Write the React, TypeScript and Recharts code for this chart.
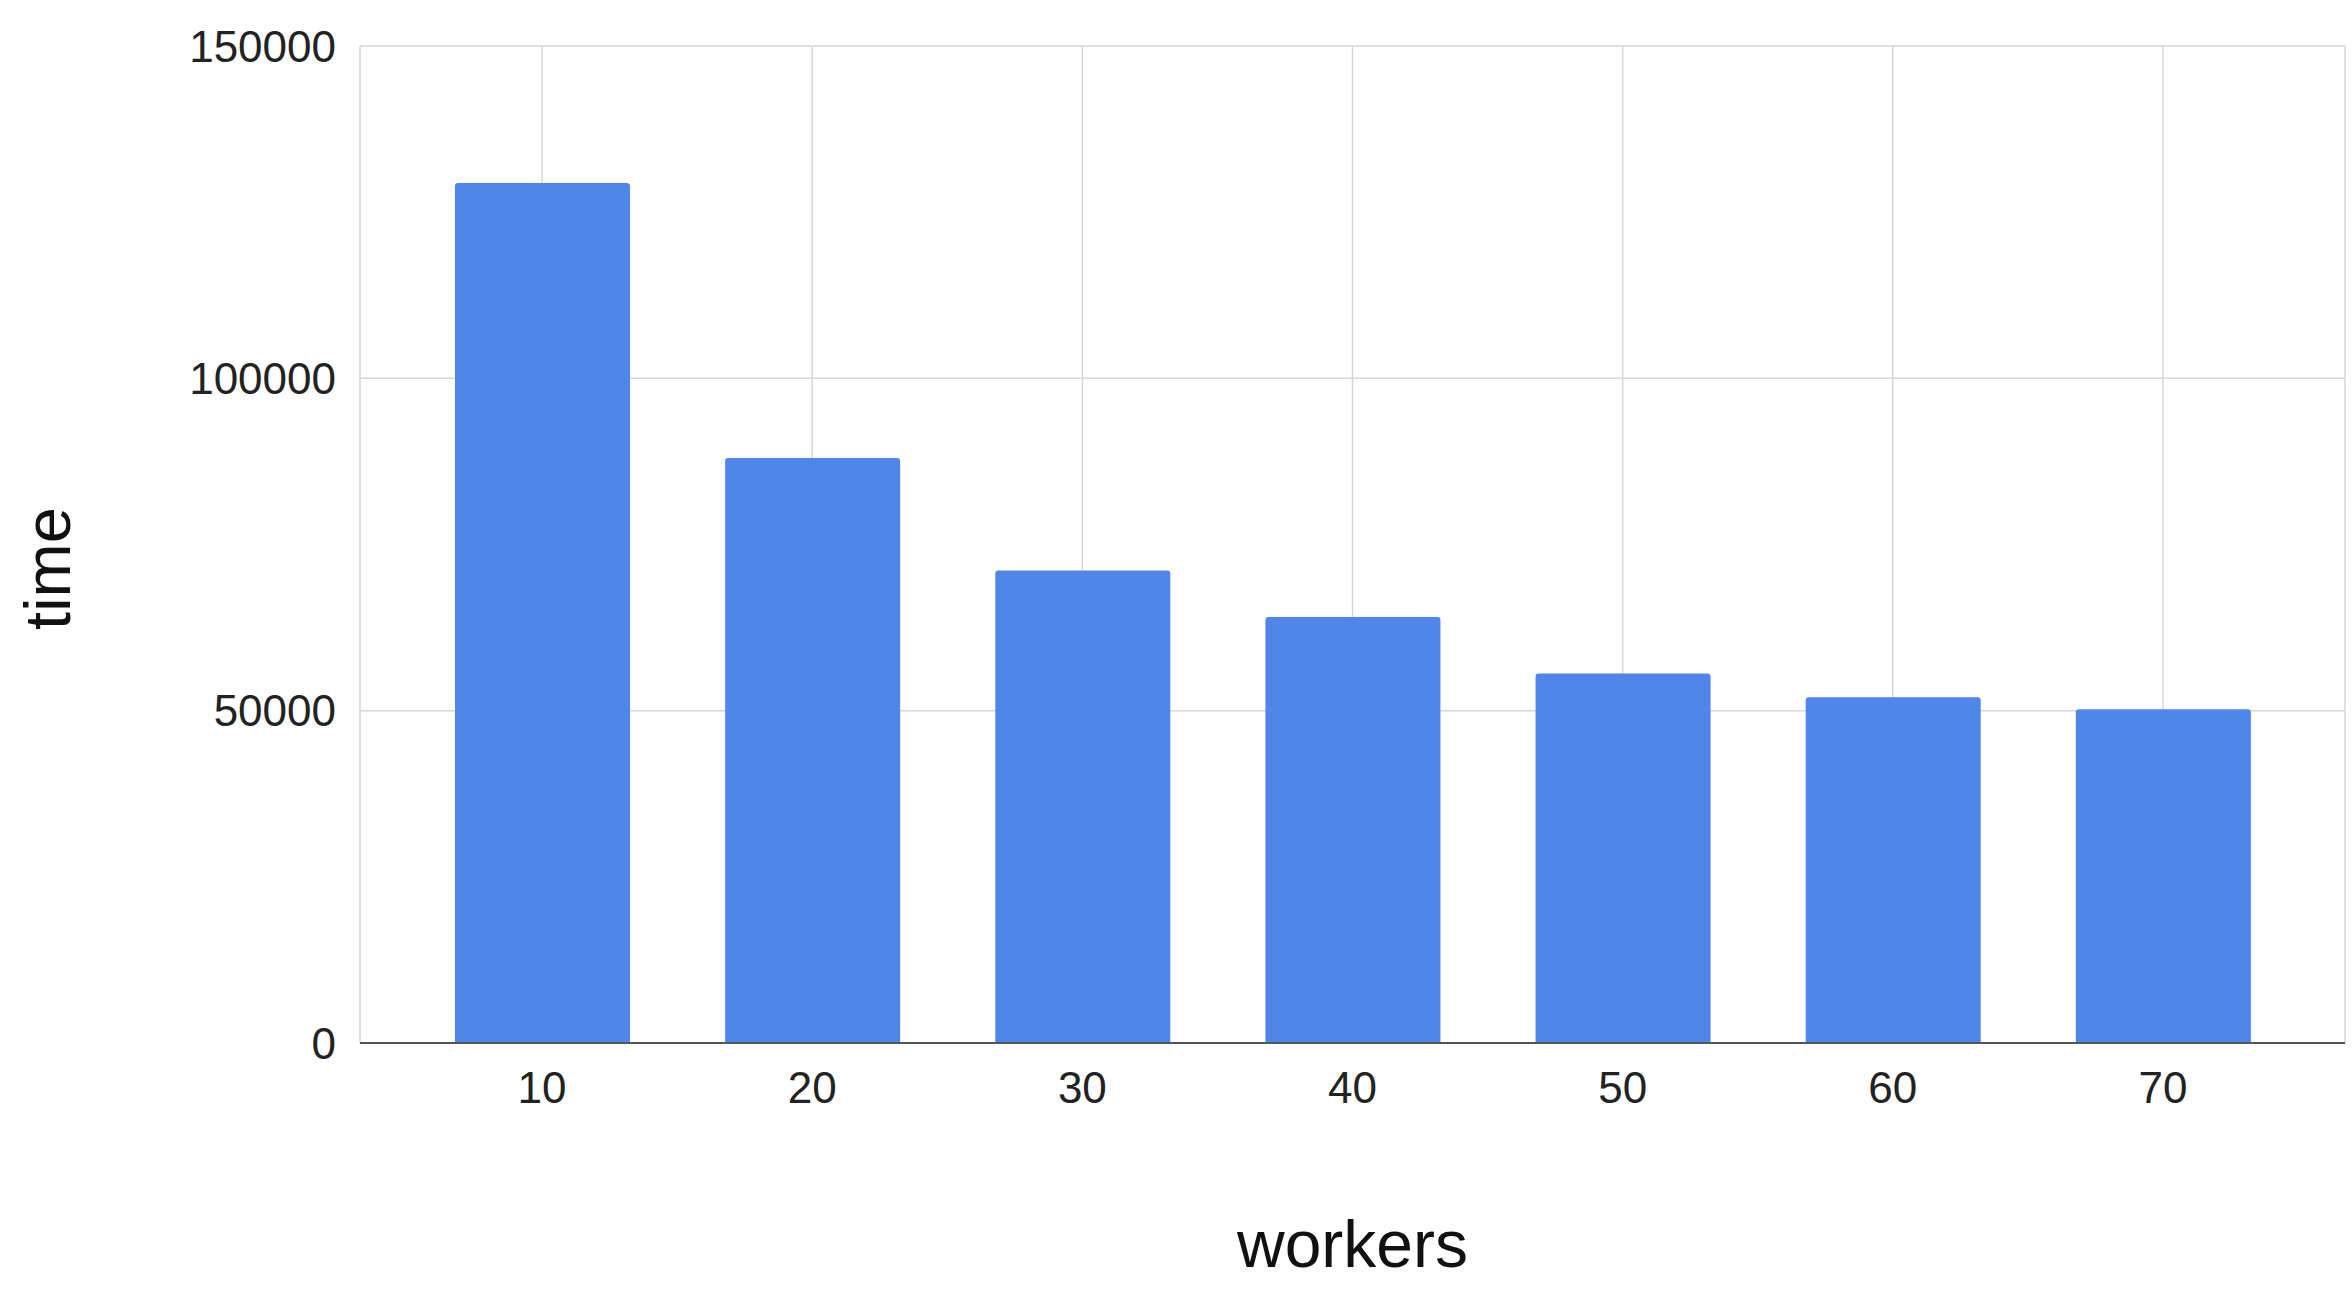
import { BarChart, Bar, XAxis, YAxis, CartesianGrid, Label } from 'recharts'

const workers = ['10', '20', '30', '40', '50', '60', '70']
const times = [129400, 88000, 71100, 64100, 55600, 52000, 50200]
const yTicks = [0, 50000, 100000, 150000]

const data = workers.map((w, i) => ({ workers: w, time: times[i] }))

const font = '"Liberation Sans", Arial, sans-serif'

export default function App() {
  return (
    <div style={{ position: 'absolute', left: 0, top: 0, background: '#fff' }}>
      <BarChart
        width={2352}
        height={1297}
        data={data}
        margin={{ top: 46, right: 7, left: 0, bottom: 0 }}
        style={{ fontFamily: font }}
      >
        <CartesianGrid stroke="#d6d6d6" strokeWidth={1.5} />
        <XAxis
          dataKey="workers"
          height={254}
          padding={{ left: 47, right: 47 }}
          tickLine={false}
          tickSize={0}
          tickMargin={29}
          axisLine={{ stroke: '#555', strokeWidth: 2 }}
          tick={{ fontSize: 44, fill: '#222' }}
        >
          <Label
            content={(p: any) => {
              const vb = p.viewBox
              return (
                <text x={vb.x + vb.width / 2} y={vb.y + 224} textAnchor="middle" fontSize={66} fill="#111">
                  workers
                </text>
              )
            }}
          />
        </XAxis>
        <YAxis
          width={360}
          domain={[0, 150000]}
          ticks={yTicks}
          axisLine={false}
          tickLine={false}
          tickSize={0}
          tickMargin={24}
          tick={{ fontSize: 44, fill: '#222' }}
        >
          <Label
            content={(p: any) => {
              const vb = p.viewBox
              const cy = vb.y + vb.height / 2 + 24
              return (
                <text x={70} y={cy} transform={`rotate(-90, 70, ${cy})`} textAnchor="middle" fontSize={65} fill="#111">
                  time
                </text>
              )
            }}
          />
        </YAxis>
        <Bar dataKey="time" fill="#5085ea" barSize={175} radius={[3, 3, 0, 0]} isAnimationActive={false} />
      </BarChart>
    </div>
  )
}
